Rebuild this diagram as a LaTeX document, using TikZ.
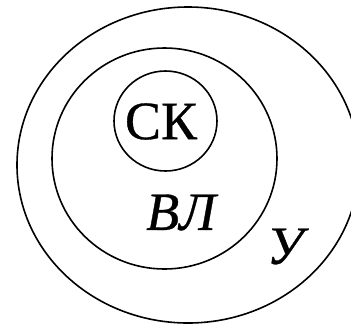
\documentclass[tikz,border=0pt]{standalone}
\usepackage{fontspec}
\setmainfont{Liberation Serif}
\tikzset{
  ring/.style={draw=black, line width=1.6pt},
  lbl/.style={inner sep=0pt, font=\fontsize{54}{60}\selectfont}
}
\begin{document}
\begin{tikzpicture}[x=1pt,y=-1pt]
\useasboundingbox (0,0) rectangle (351,325);
\clip (0,0) rectangle (351,325);
\draw[ring] (188,165) ellipse [x radius=171, y radius=158];
\draw[ring] (164.5,158.5) ellipse [x radius=112.5, y radius=110.5];
\draw[ring] (165.5,121) ellipse [x radius=51.5, y radius=50];
\node[lbl] (sk) at (161,121.5) {\addfontfeatures{FakeBold=0.6}СК};
\node[lbl, font=\fontsize{54}{60}\selectfont\itshape] (vl) at (181,212.5) {\addfontfeatures{FakeBold=0.6}ВЛ};
\node[lbl, font=\fontsize{54}{60}\selectfont\itshape] (u) at (285,246.5) {\addfontfeatures{FakeBold=0.6}У};
\end{tikzpicture}
\end{document}
